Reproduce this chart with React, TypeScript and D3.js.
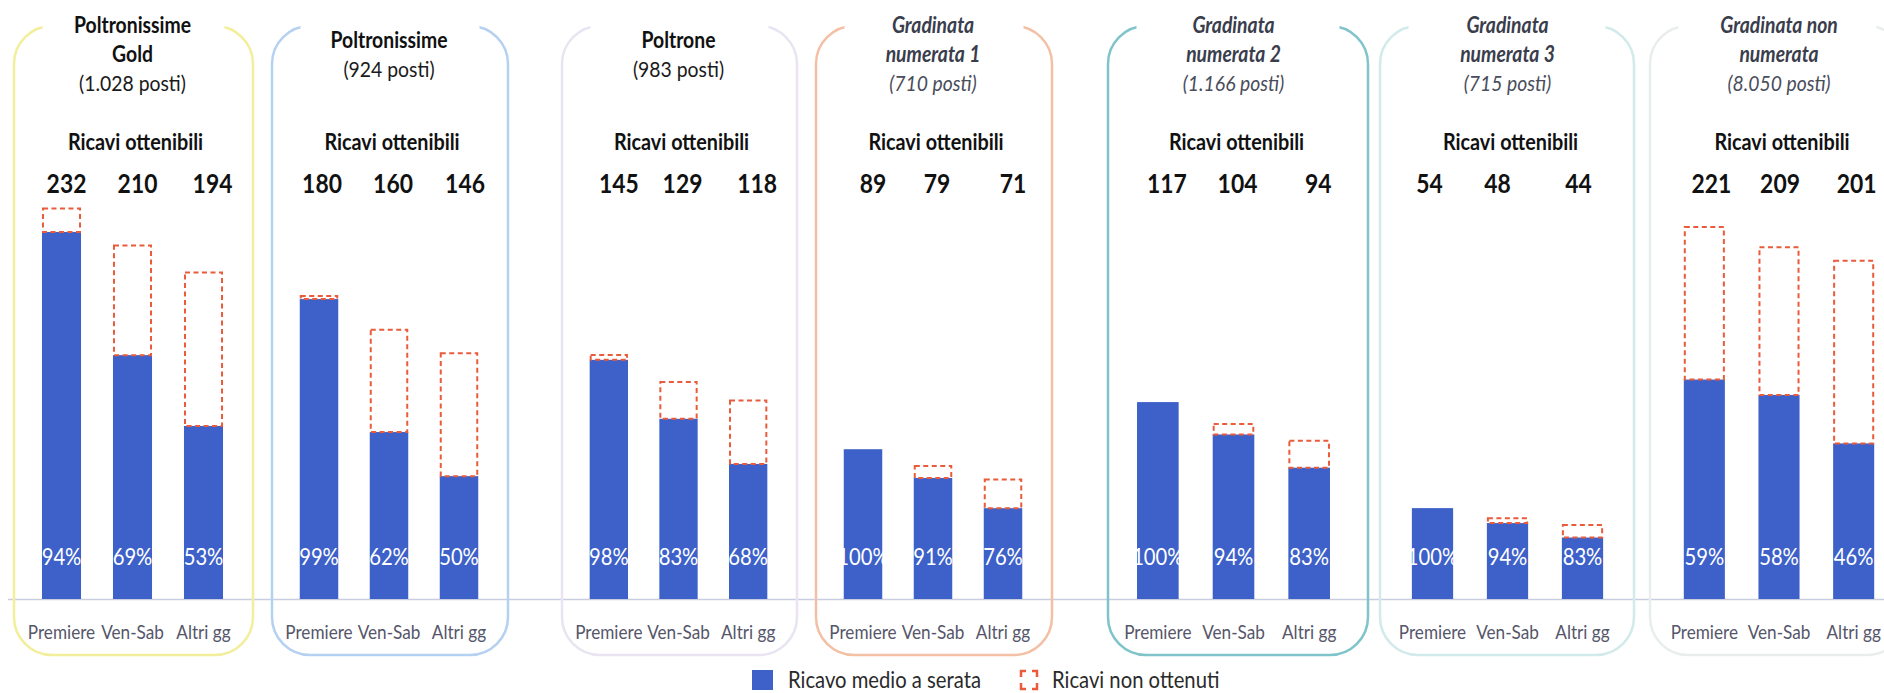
import React from "react";
import * as d3 from "d3";

// ---------- DATA ----------
const titleBold: string[][] = [
  ["Poltronissime", "Gold"],
  ["Poltronissime"],
  ["Poltrone"],
  ["Gradinata", "numerata 1"],
  ["Gradinata", "numerata 2"],
  ["Gradinata", "numerata 3"],
  ["Gradinata non", "numerata"],
];
const seats: string[] = ["(1.028 posti)", "(924 posti)", "(983 posti)", "(710 posti)", "(1.166 posti)", "(715 posti)", "(8.050 posti)"];
const italicTitle: boolean[] = [false, false, false, true, true, true, true];
const categories: string[] = ["Premiere", "Ven-Sab", "Altri gg"];
const ricaviOttenibili: number[][] = [
  [232, 210, 194],
  [180, 160, 146],
  [145, 129, 118],
  [89, 79, 71],
  [117, 104, 94],
  [54, 48, 44],
  [221, 209, 201],
];
const percentuali: number[][] = [
  [94, 69, 53],
  [99, 62, 50],
  [98, 83, 68],
  [100, 91, 76],
  [100, 94, 83],
  [100, 94, 83],
  [59, 58, 46],
];
const subtitle = "Ricavi ottenibili";
const legendLabels: string[] = ["Ricavo medio a serata", "Ricavi non ottenuti"];

// ---------- LAYOUT ----------
const W = 1884;
const H = 693;
// panel border extents and the horizontal range used for the bars
const panelExtents: [number, number][] = [
  [14, 253],
  [272, 508],
  [562, 797],
  [816, 1052],
  [1108, 1368],
  [1380, 1634],
  [1650, 1905],
];
const barRanges: [number, number][] = [
  [26, 239],
  [284, 494],
  [574, 783],
  [828, 1038],
  [1120, 1347],
  [1395, 1620],
  [1667, 1891],
];
// horizontal nudge of the value labels (px) relative to bar centre
const valueNudge: number[][] = [
  [5, 5, 9],
  [3, 4, 6],
  [10, 4, 9],
  [10, 4, 10],
  [9, 4, 9],
  [-3, -10, -4],
  [7, 1, 3],
];
const panelColors = ["#f3ee9c", "#b5d1f1", "#e9e4f1", "#f3c0a5", "#7fc3cb", "#d2eaea", "#e9eded"];
const BLUE = "#3d61c9";
const DASH = "#e95b3b";
const FONT = "Lato, 'Open Sans', sans-serif";
const SX = 0.88; // horizontal condensing to mimic Calibri proportions
const baseY = 599;
const panelTop = 26;
const panelBottom = 655;
const R = 38;

const y = d3.scaleLinear().domain([0, 250]).range([baseY, baseY - 250 * 1.683]);

type TProps = {
  x: number;
  y: number;
  size: number;
  weight?: number;
  italic?: boolean;
  fill?: string;
  anchor?: "start" | "middle" | "end";
  children: React.ReactNode;
};
function T({ x, y, size, weight = 400, italic = false, fill = "#111", anchor = "middle", children }: TProps) {
  return (
    <text
      transform={`translate(${x},${y}) scale(${SX},1)`}
      fontSize={size}
      fontWeight={weight}
      fontStyle={italic ? "italic" : "normal"}
      fill={fill}
      textAnchor={anchor}
    >
      {children}
    </text>
  );
}

export default function App() {
  return (
    <svg
      width={W}
      height={H}
      viewBox={`0 0 ${W} ${H}`}
      style={{ position: "absolute", left: 0, top: 0, background: "#fff", display: "block" }}
      fontFamily={FONT}
    >
      <rect x={0} y={0} width={W} height={H} fill="#fff" />
      {/* baseline */}
      <line x1={8} x2={W} y1={baseY + 0.5} y2={baseY + 0.5} stroke="#c9cde0" strokeWidth={1.5} />
      {panelExtents.map(([x0, x1], p) => {
        const xb = d3
          .scaleBand<string>()
          .domain(categories)
          .range(barRanges[p])
          .paddingInner(0.45)
          .paddingOuter(0.225);
        const cx = (barRanges[p][0] + barRanges[p][1]) / 2;
        const lines = titleBold[p];
        const n = lines.length + 1;
        const lh = 29;
        const firstBase = 62 - ((n - 1) * lh) / 2;
        const it = italicTitle[p];
        const titleColor = it ? "#3a3d4c" : "#111";
        return (
          <g key={p}>
            <rect
              x={x0}
              y={panelTop}
              width={x1 - x0}
              height={panelBottom - panelTop}
              rx={R}
              ry={R}
              fill="none"
              stroke={panelColors[p]}
              strokeWidth={2.5}
            />
            <rect x={x0 + R * 0.75} y={panelTop - 4} width={x1 - x0 - R * 1.5} height={8} fill="#fff" />
            {lines.map((t, i) => (
              <T key={i} x={cx} y={firstBase + i * lh} size={22} weight={700} italic={it} fill={titleColor}>
                {t}
              </T>
            ))}
            <T x={cx} y={firstBase + lines.length * lh} size={22} italic={it} fill={it ? "#4a4d5c" : "#1a1a1a"}>
              {seats[p]}
            </T>
            <T x={cx + 3} y={150} size={22.5} weight={700}>
              {subtitle}
            </T>
            {categories.map((c, i) => {
              const total = ricaviOttenibili[p][i];
              const ach = (total * percentuali[p][i]) / 100;
              const bx = xb(c)!;
              const bw = xb.bandwidth();
              const bc = bx + bw / 2;
              return (
                <g key={c}>
                  <T x={bc + valueNudge[p][i]} y={193} size={26} weight={700}>
                    {total}
                  </T>
                  <rect x={bx} y={y(ach)} width={bw} height={baseY - y(ach)} fill={BLUE} />
                  {percentuali[p][i] < 100 && (
                    <rect
                      x={bx + 1}
                      y={y(total)}
                      width={bw - 2}
                      height={y(ach) - y(total)}
                      fill="none"
                      stroke={DASH}
                      strokeWidth={2}
                      strokeDasharray="5 3.5"
                    />
                  )}
                  <T x={bc} y={565} size={23} fill="#fff">
                    {percentuali[p][i]}%
                  </T>
                  <T x={bc} y={639} size={19.5} fill="#55566a">
                    {c}
                  </T>
                </g>
              );
            })}
          </g>
        );
      })}
      {/* legend */}
      <g>
        <rect x={752} y={670} width={21} height={20} fill={BLUE} />
        <T x={788} y={688} size={23} fill="#2a2a2a" anchor="start">
          {legendLabels[0]}
        </T>
        <path
          d="M1021 677 V671 H1026 M1032 671 H1037 V677 M1037 683 V689 H1032 M1026 689 H1021 V683"
          fill="none"
          stroke={DASH}
          strokeWidth={2.5}
        />
        <T x={1052} y={688} size={23} fill="#2a2a2a" anchor="start">
          {legendLabels[1]}
        </T>
      </g>
    </svg>
  );
}
